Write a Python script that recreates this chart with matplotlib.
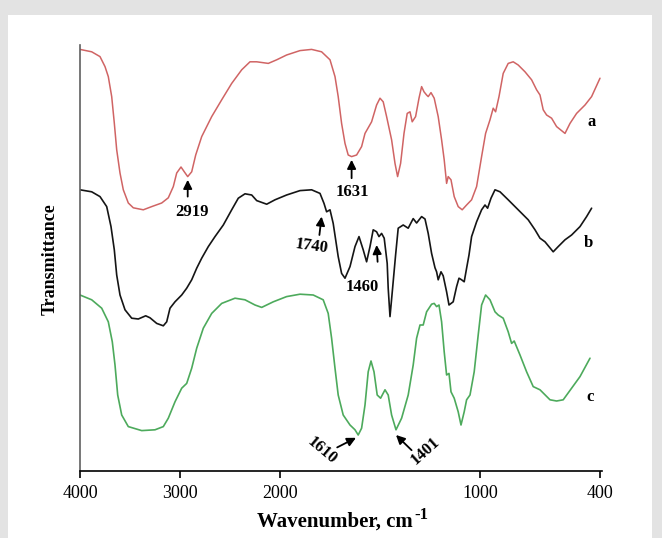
import numpy as np
import matplotlib.pyplot as plt
from matplotlib.patches import Rectangle

plt.rcParams['font.family'] = 'Liberation Serif'

# spectrum a (red)
wn_a = [4000, 3883, 3800, 3750, 3717, 3683, 3657, 3633, 3600, 3567, 3517, 3467, 3367, 3283,
        3183, 3117, 3067, 3033, 2990, 2957, 2923, 2883, 2843, 2783, 2683, 2583, 2483, 2383,
        2300, 2233, 2117, 2033, 1967, 1900, 1842, 1792, 1750, 1725, 1709, 1692, 1675, 1659,
        1642, 1617, 1592, 1575, 1542, 1517, 1500, 1484, 1467, 1442, 1425, 1412, 1397, 1380,
        1364, 1350, 1339, 1322, 1305, 1292, 1280, 1267, 1259, 1245, 1229, 1209, 1192, 1179,
        1167, 1159, 1145, 1129, 1109, 1089, 1067, 1042, 1017, 992, 972, 950, 934, 922, 905,
        884, 859, 834, 809, 775, 742, 717, 700, 684, 667, 642, 617, 575, 550, 517, 475, 442, 400]
t_a = [105.4, 104.8, 103.6, 101.1, 98.6, 93.6, 87.0, 80.3, 74.5, 70.3, 67.0, 65.8, 65.3, 66.1,
       67.0, 68.3, 71.1, 74.5, 76.0, 74.8, 73.6, 74.8, 79.0, 83.6, 88.6, 92.8, 96.9, 100.3,
       102.3, 102.3, 101.9, 102.8, 104.0, 105.1, 105.4, 104.8, 102.8, 98.6, 93.6, 86.9, 81.9, 79.0,
       78.6, 79.0, 81.1, 84.4, 87.3, 91.5, 93.2, 92.3, 88.6, 82.8, 76.9, 73.6, 76.9, 84.4,
       89.4, 89.8, 87.3, 88.6, 93.2, 96.1, 94.8, 94.0, 93.6, 94.6, 93.2, 88.6, 82.8, 77.8,
       71.9, 73.6, 72.8, 68.6, 66.1, 65.3, 66.5, 67.8, 71.1, 78.6, 84.4, 87.8, 90.7, 89.8, 93.6,
       99.4, 101.9, 102.3, 101.5, 99.8, 97.8, 95.3, 94.0, 90.3, 89.0, 88.2, 86.1, 84.4, 86.9, 89.4, 91.5, 93.6, 98.2]

# spectrum b (black)
wn_b = [4000, 3883, 3800, 3733, 3690, 3657, 3633, 3600, 3550, 3483, 3417, 3343, 3300, 3233,
        3167, 3133, 3100, 3050, 2983, 2933, 2883, 2833, 2783, 2717, 2650, 2567, 2483, 2417,
        2350, 2283, 2233, 2133, 2050, 1967, 1900, 1842, 1800, 1780, 1767, 1750, 1734, 1709,
        1692, 1675, 1650, 1625, 1605, 1584, 1567, 1550, 1534, 1517, 1505, 1492, 1479, 1464,
        1459, 1450, 1437, 1422, 1409, 1384, 1359, 1334, 1317, 1292, 1275, 1259, 1242, 1225,
        1217, 1209, 1195, 1184, 1167, 1155, 1134, 1117, 1105, 1092, 1079, 1067, 1055, 1042,
        1017, 992, 975, 962, 945, 925, 900, 859, 809, 759, 725, 700, 675, 634, 609, 575, 542,
        500, 467, 442]
t_b = [70.3, 69.8, 68.6, 66.1, 61.1, 55.3, 49.0, 44.0, 40.3, 38.2, 38.0, 38.8, 38.3, 36.9,
       36.3, 37.3, 40.7, 42.3, 44.0, 45.7, 47.8, 50.7, 53.2, 56.1, 58.6, 61.5, 65.3, 68.2,
       69.3, 69.0, 67.6, 66.7, 67.8, 69.0, 70.1, 70.3, 69.4, 66.9, 64.8, 65.3, 61.9, 53.6,
       49.4, 48.2, 51.1, 56.1, 58.6, 55.3, 52.3, 56.1, 60.3, 59.8, 58.6, 59.4, 58.2, 51.9,
       45.7, 38.6, 45.7, 54.0, 60.7, 61.5, 60.7, 63.1, 62.0, 63.6, 63.0, 59.4, 54.4, 50.8,
       49.8, 47.8, 49.8, 48.8, 44.8, 41.5, 42.3, 46.1, 48.2, 47.8, 47.3, 50.7, 54.0, 58.6,
       62.3, 65.3, 66.5, 65.7, 68.2, 70.3, 69.8, 67.8, 65.3, 62.8, 60.3, 58.2, 57.3, 54.8, 56.1, 57.8, 59.0,
       61.1, 63.6, 65.7]

# spectrum c (green)
wn_c = [4000, 3883, 3783, 3717, 3677, 3650, 3623, 3583, 3517, 3383, 3250, 3167, 3117, 3050,
        2983, 2933, 2883, 2833, 2767, 2683, 2583, 2450, 2350, 2250, 2183, 2067, 1967, 1900,
        1834, 1784, 1759, 1742, 1725, 1709, 1684, 1650, 1625, 1609, 1592, 1575, 1559, 1545,
        1530, 1514, 1497, 1475, 1459, 1442, 1420, 1392, 1359, 1334, 1317, 1300, 1284, 1267,
        1242, 1229, 1217, 1205, 1192, 1179, 1167, 1155, 1145, 1129, 1109, 1095, 1079, 1067,
        1050, 1029, 1009, 992, 972, 950, 925, 909, 884, 859, 842, 829, 800, 767, 734, 700,
        650, 617, 584, 542, 500, 450]
t_c = [44.0, 42.8, 40.7, 37.3, 32.3, 26.5, 19.0, 14.0, 11.1, 10.1, 10.3, 11.1, 13.2, 17.3,
       20.7, 21.9, 25.7, 30.7, 35.7, 39.4, 41.9, 43.2, 42.8, 41.5, 40.9, 42.3, 43.6, 44.2,
       44.0, 42.8, 39.4, 33.2, 25.7, 19.0, 14.0, 11.5, 10.3, 9.0, 10.7, 16.5, 24.8, 27.5,
       24.8, 19.0, 18.2, 20.3, 19.0, 14.0, 10.3, 13.2, 19.0, 26.5, 33.2, 36.5, 36.5, 39.8,
       41.7, 41.9, 41.1, 41.5, 37.3, 29.8, 24.0, 24.4, 19.8, 18.2, 14.8, 11.5, 14.8, 17.8,
       19.0, 24.8, 34.0, 41.5, 44.0, 42.8, 39.8, 39.0, 38.2, 34.8, 31.9, 32.5, 29.0, 24.8, 21.1, 20.3,
       17.8, 17.5, 17.8, 20.7, 23.6, 28.2]

x_ticks = [4000, 3000, 2000, 1000, 400]


# FTIR style axis: 4000-2000 compressed by half
def fwd(w):
    w = np.asarray(w, dtype=float)
    return np.where(w > 2000, 2000 + (w - 2000) / 2, w)


def inv(t):
    t = np.asarray(t, dtype=float)
    return np.where(t > 2000, 2000 + (t - 2000) * 2, t)


fig = plt.figure(figsize=(6.62, 5.38), dpi=100, facecolor='#e3e3e3')
fig.patches.append(Rectangle((8 / 662, 0), 644 / 662, 1 - 15 / 538, transform=fig.transFigure,
                             facecolor='white', edgecolor='none', zorder=-5))

ax = fig.add_axes([80 / 662, 1 - 471 / 538, 522 / 662, 426 / 538])
ax.set_facecolor('none')
ax.set_xscale('function', functions=(fwd, inv))
ax.set_xlim(4000, 390)
ax.set_ylim(0, 106.5)

line_kw = dict(solid_joinstyle='round', solid_capstyle='round')
ax.plot(wn_a, t_a, color='#d06464', lw=1.1, **line_kw)
ax.plot(wn_b, t_b, color='#151515', lw=1.2, **line_kw)
ax.plot(wn_c, t_c, color='#4daa5c', lw=1.2, **line_kw)

ax.spines['top'].set_visible(False)
ax.spines['right'].set_visible(False)
ax.spines['left'].set_color('#606060')
ax.spines['left'].set_linewidth(1.2)
ax.spines['bottom'].set_linewidth(1.2)
ax.set_yticks([])
ax.set_xticks(x_ticks)
ax.set_xticklabels([str(v) for v in x_ticks], fontsize=13)
ax.tick_params(axis='x', direction='out', length=5, width=1.2, pad=5)
ax.xaxis.set_minor_locator(plt.NullLocator())

bold = dict(fontsize=12, fontweight='bold', ha='center', va='center')
arrow = dict(arrowstyle='-|>', color='black', lw=1.3, mutation_scale=13, shrinkA=0, shrinkB=0)

# tip, tail, label position, text, rotation
peaks = [
    ((2923, 72.8), (2923, 68.6), (2883, 64.8), '2919', 0),
    ((1642, 77.8), (1642, 73.2), (1637, 69.8), '1631', 0),
    ((1792, 63.6), (1803, 59.0), (1840, 56.2), '1740', -8),
    ((1517, 56.5), (1512, 52.3), (1589, 46.1), '1460', 0),
    ((1620, 8.3), (1714, 5.9), (1792, 5.2), '1610', -40),
    ((1420, 9.0), (1342, 5.2), (1275, 5.1), '1401', 42),
]
for tip, tail, pos, txt, rot in peaks:
    ax.annotate('', xy=tip, xytext=tail, arrowprops=arrow)
    ax.text(pos[0], pos[1], txt, rotation=rot, **bold)

ax.text(442, 87.2, 'a', **bold)
ax.text(460, 57.0, 'b', **bold)
ax.text(450, 18.5, 'c', **bold)

fig.text(413 / 662, 1 - 522 / 538, 'Wavenumber, cm', fontsize=15,
         fontweight='bold', ha='right', va='center')
fig.text(414 / 662, 1 - 515 / 538, '-1', fontsize=12,
         fontweight='bold', ha='left', va='center')
fig.text(50 / 662, 1 - 259 / 538, 'Transmittance', fontsize=13, fontweight='bold',
         rotation=90, ha='center', va='center')

fig.savefig('out.png', dpi=100, facecolor=fig.get_facecolor())
